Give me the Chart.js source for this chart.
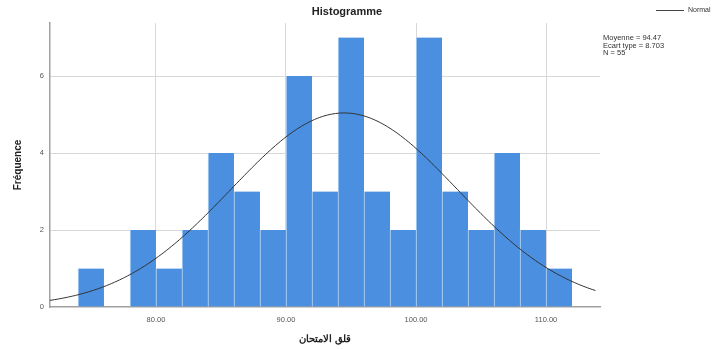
<!DOCTYPE html>
<html>
<head>
<meta charset="utf-8">
<script src="https://cdn.jsdelivr.net/npm/chart.js@4.4.0/dist/chart.umd.min.js"></script>
<style>
  html, body { margin: 0; padding: 0; background: #fff; }
  #wrap { width: 717px; height: 349px; position: relative; }
</style>
</head>
<body>
<div id="wrap"><canvas id="myChart"></canvas></div>
<script>
// Histogram bins (centre of each 2-unit bin) and counts
const binCenters = [75, 77, 79, 81, 83, 85, 87, 89, 91, 93, 95, 97, 99, 101, 103, 105, 107, 109, 111];
const binCounts  = [1, 0, 2, 1, 2, 4, 3, 2, 6, 3, 7, 3, 2, 7, 3, 2, 4, 2, 1];
const xTickValues = [80, 90, 100, 110];
const yTickValues = [0, 2, 4, 6];

// Stats printed in the legend
const statMean = 94.47;
const statSd = 8.703;
const statN = 55;
const binWidth = 2;
const statLines = ['Moyenne = 94.47', 'Ecart type = 8.703', 'N = 55'];

// Fitted normal curve defined by the stats above
const curveX = [];
for (let x = 71.8; x <= 114.2; x += 0.4) curveX.push(Math.round(x * 10) / 10);
const curvePoints = curveX.map(x => {
    const z = (x - statMean) / statSd;
    return { x: x, y: statN * binWidth / (statSd * Math.sqrt(2 * Math.PI)) * Math.exp(-0.5 * z * z) };
});

const FONT = "'Liberation Sans', Arial, sans-serif";

const ctx = document.getElementById('myChart');

const overlay = {
    id: 'overlay',
    afterDraw(chart) {
        const c = chart.ctx;
        c.save();
        c.fillStyle = '#222';
        c.font = 'bold 11px ' + FONT;
        c.textAlign = 'center';
        c.textBaseline = 'middle';
        c.fillText('Histogramme', 347, 12);

        // legend line + label
        c.strokeStyle = '#444';
        c.lineWidth = 1;
        c.beginPath();
        c.moveTo(656, 10.5);
        c.lineTo(684, 10.5);
        c.stroke();
        c.font = '7px ' + FONT;
        c.textAlign = 'left';
        c.fillStyle = '#333';
        c.fillText('Normal', 688, 10.5);

        c.font = '7.5px ' + FONT;
        statLines.forEach((t, i) => c.fillText(t, 603, 38 + i * 7.5));
        c.restore();
    }
};

new Chart(ctx, {
    data: {
        datasets: [
            {
                type: 'line',
                data: curvePoints,
                borderColor: '#333',
                borderWidth: 1,
                pointRadius: 0,
                tension: 0.3,
                fill: false,
                order: 0
            },
            {
                type: 'bar',
                data: binCenters.map((x, i) => ({ x: x, y: binCounts[i] })),
                backgroundColor: '#4a8fe0',
                borderColor: '#c2dcf7',
                borderWidth: { left: 1, right: 0, top: 0, bottom: 0 },
                barPercentage: 1,
                categoryPercentage: 1,
                order: 1
            }
        ]
    },
    options: {
        responsive: true,
        maintainAspectRatio: false,
        animation: false,
        layout: { padding: { top: 23, right: 117, left: 12, bottom: 4 } },
        plugins: {
            legend: { display: false },
            tooltip: { enabled: false }
        },
        scales: {
            x: {
                type: 'linear',
                offset: false,
                min: 71.85,
                max: 114.15,
                afterBuildTicks(scale) { scale.ticks = xTickValues.map(v => ({ value: v })); },
                afterFit(scale) { scale.height = 38; },
                grid: { color: '#d8d8d8', lineWidth: 1, drawTicks: false, offset: false },
                border: { color: '#a0a0a0', width: 1.5 },
                ticks: {
                    padding: 8,
                    color: '#555',
                    font: { size: 7.5, family: FONT },
                    callback: v => v.toFixed(2)
                },
                title: {
                    display: true,
                    text: 'قلق الامتحان',
                    color: '#222',
                    font: { size: 10, weight: 'bold', family: FONT },
                    padding: { top: 2, bottom: 0 }
                }
            },
            y: {
                min: 0,
                max: 7.38,
                afterBuildTicks(scale) { scale.ticks = yTickValues.map(v => ({ value: v })); },
                afterFit(scale) { scale.width = 38; },
                grid: {
                    color: ctx => ctx.tick && ctx.tick.value === 0 ? 'rgba(0,0,0,0)' : '#d8d8d8',
                    lineWidth: 1,
                    drawTicks: false
                },
                border: { color: '#a0a0a0', width: 1.5 },
                ticks: {
                    padding: 6,
                    color: '#555',
                    font: { size: 7.5, family: FONT }
                },
                title: {
                    display: true,
                    text: 'Fréquence',
                    color: '#222',
                    font: { size: 10, weight: 'bold', family: FONT },
                    padding: { top: 0, bottom: 10 }
                }
            }
        }
    },
    plugins: [overlay]
});
</script>
</body>
</html>
